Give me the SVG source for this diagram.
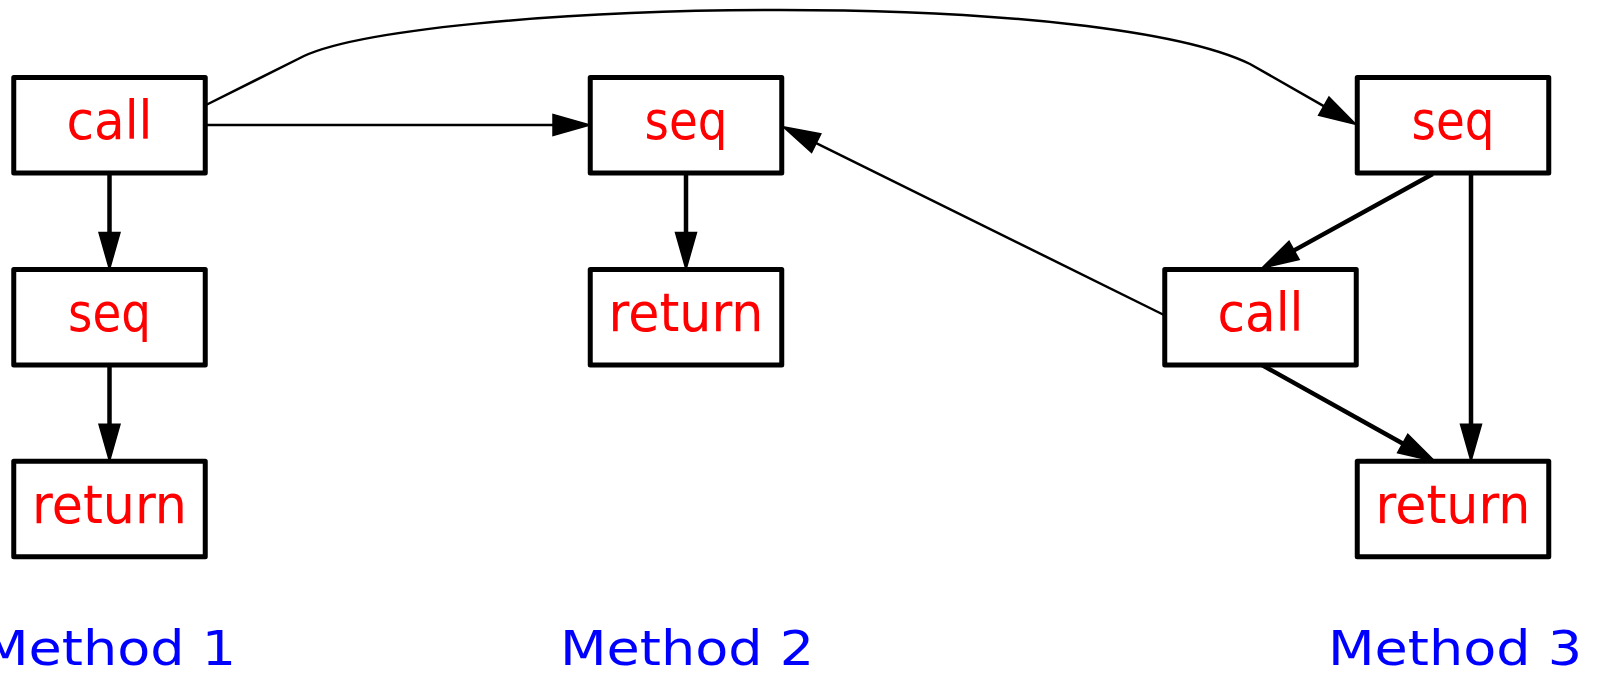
<svg xmlns="http://www.w3.org/2000/svg" width="1600" height="673" viewBox="0 0 1600 673">
  <style>
    .box { fill: #ffffff; stroke: #000000; stroke-width: 5; stroke-linejoin: round; }
    .lbl { font-family: "DejaVu Sans", "Liberation Sans", sans-serif; font-size: 53px; fill: #ff0000; text-anchor: middle; }
    .cap { font-family: "DejaVu Sans", "Liberation Sans", sans-serif; font-size: 48px; fill: #0000ff; text-anchor: middle; }
    .edge { fill: none; stroke: #000000; }
    .thin { stroke-width: 2.5; }
    .thick { stroke-width: 4.5; }
  </style>
  <defs>
    <marker id="arrow" markerUnits="userSpaceOnUse" markerWidth="40" markerHeight="24" refX="0" refY="10.5" orient="auto" overflow="visible">
      <path d="M0,0 L37,10.5 L0,21 Z" fill="#000000" stroke="#000000" stroke-width="1.5" stroke-linejoin="miter"/>
    </marker>
  </defs>

  <!-- connectors: each line stops at the arrow base; the marker supplies the head -->
  <g id="edges">
    <!-- method 1 -->
    <line class="edge thick" x1="109.5" y1="173" x2="109.5" y2="232.5" marker-end="url(#arrow)"/>
    <line class="edge thick" x1="109.5" y1="365" x2="109.5" y2="424.2" marker-end="url(#arrow)"/>
    <!-- call (method 1) to seq (method 2) -->
    <line class="edge thin" x1="205.5" y1="125" x2="553" y2="125" marker-end="url(#arrow)"/>
    <!-- call (method 1) over the top to seq (method 3) -->
    <path class="edge thin" d="M206,105 L298,59 C350,30 560,10 780,10 C1000,10 1180,30 1250,64 L1323.8,106.1" marker-end="url(#arrow)"/>
    <!-- method 2 -->
    <line class="edge thick" x1="686" y1="173" x2="686" y2="232.5" marker-end="url(#arrow)"/>
    <!-- call (method 3) back to seq (method 2) -->
    <line class="edge thin" x1="1164" y1="315" x2="816.2" y2="143.1" marker-end="url(#arrow)"/>
    <!-- method 3 -->
    <line class="edge thick" x1="1432.7" y1="174" x2="1294.1" y2="250.4" marker-end="url(#arrow)"/>
    <line class="edge thick" x1="1471" y1="173" x2="1471" y2="424.2" marker-end="url(#arrow)"/>
    <line class="edge thick" x1="1262" y1="365" x2="1402.7" y2="443.5" marker-end="url(#arrow)"/>
  </g>

  <!-- method 1 nodes -->
  <g id="m1-call">
    <rect class="box" x="13.75" y="77.5" width="191.5" height="95.5"/>
    <text class="lbl" x="109.5" y="138.5" textLength="86" lengthAdjust="spacingAndGlyphs">call</text>
  </g>
  <g id="m1-seq">
    <rect class="box" x="13.75" y="269.5" width="191.5" height="95.5"/>
    <text class="lbl" x="109.5" y="330.5" textLength="83" lengthAdjust="spacingAndGlyphs">seq</text>
  </g>
  <g id="m1-return">
    <rect class="box" x="13.75" y="461.25" width="191.5" height="95.5"/>
    <text class="lbl" x="109.5" y="522.5" textLength="155" lengthAdjust="spacingAndGlyphs">return</text>
  </g>

  <!-- method 2 nodes -->
  <g id="m2-seq">
    <rect class="box" x="590.25" y="77.5" width="191.5" height="95.5"/>
    <text class="lbl" x="686" y="138.5" textLength="83" lengthAdjust="spacingAndGlyphs">seq</text>
  </g>
  <g id="m2-return">
    <rect class="box" x="590.25" y="269.5" width="191.5" height="95.5"/>
    <text class="lbl" x="686" y="330.5" textLength="155" lengthAdjust="spacingAndGlyphs">return</text>
  </g>

  <!-- method 3 nodes -->
  <g id="m3-seq">
    <rect class="box" x="1357.25" y="77.5" width="191.5" height="95.5"/>
    <text class="lbl" x="1453" y="138.5" textLength="83" lengthAdjust="spacingAndGlyphs">seq</text>
  </g>
  <g id="m3-call">
    <rect class="box" x="1164.75" y="269.5" width="191.5" height="95.5"/>
    <text class="lbl" x="1260.5" y="330.5" textLength="86" lengthAdjust="spacingAndGlyphs">call</text>
  </g>
  <g id="m3-return">
    <rect class="box" x="1357.25" y="461.25" width="191.5" height="95.5"/>
    <text class="lbl" x="1453" y="522.5" textLength="155" lengthAdjust="spacingAndGlyphs">return</text>
  </g>

  <!-- captions -->
  <g id="captions">
    <text class="cap" x="109" y="664.5" textLength="254" lengthAdjust="spacingAndGlyphs">Method 1</text>
    <text class="cap" x="687" y="664.5" textLength="254" lengthAdjust="spacingAndGlyphs">Method 2</text>
    <text class="cap" x="1455" y="664.5" textLength="254" lengthAdjust="spacingAndGlyphs">Method 3</text>
  </g>
</svg>
